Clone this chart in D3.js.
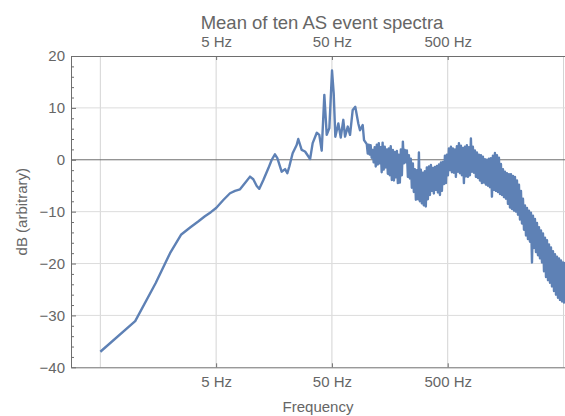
<!DOCTYPE html>
<html><head><meta charset="utf-8">
<script src="https://cdn.jsdelivr.net/npm/d3@7"></script>
<style>
body{margin:0;background:#fff}
svg{display:block}
text{font-family:"Liberation Sans",Arial,Helvetica,sans-serif;fill:#666}
</style>
</head><body>
<svg id="chart" width="565" height="416"></svg>
<script>
// ---- data ----
const lowFreqHz = [0.5,1.0,1.5,2.0,2.5,3.0,3.5,4.0,4.5,5.0,5.77,6.59,7.28,8.04,8.88,9.81,10.47,11.21,11.8,12.79,14.12,15.11,16.1,16.89,18.4,19.7,20.6,21.43,22.9,24.8];
const lowDb     = [-37.0,-31.1,-23.8,-18.0,-14.4,-13.0,-11.9,-10.9,-10.1,-9.3,-7.75,-6.45,-6.0,-5.7,-4.5,-3.25,-3.75,-5.05,-5.6,-3.9,-1.65,0.0,1.05,0.3,-2.3,-1.8,-2.6,-1.3,1.25,2.85];

const midFreqHz = [25.6,27.4,29.3,32.4,34.1,37.0,38.9,40.8,43.0,45.1,47.5,50.1,51.8,53.5,56.8,59.6,62.7,64.9,68.5,71.7,75.6,79.6,84.5,87.4,92.2,94.7];
const midDb     = [4.0,1.9,1.6,0.15,3.2,5.2,4.8,1.75,12.5,4.8,6.1,17.2,12.8,4.45,7.0,4.3,7.7,4.45,6.4,4.8,9.6,10.2,7.0,5.7,6.7,3.8];

// dense part of the spectrum: local maxima and minima of the noisy band
const highTopFreqHz = [100,104,108,112.5,117,122,127,132,137,143,149,155,161,168,175,182,189,197,205,213,222,231,240,250,260,271,282,293,305,317,330,344,358,372,387,403,420,437,454,473,492,512,533,554,577,600,625,650,676,704,732,762,793,825,859,894,930,968,1007,1048,1090,1135,1181,1229,1279,1331,1385,1441,1500,1561,1624,1690,1759,1830,1904,1982,2062,2146,2233,2324,2418,2516,2618,2725,2835,2950,3070,3195,3325,3460,3600,3746,3898,4056,4221,4392,4570,4756,4949,5150];
const highTopDb = [3.0,2.9,2.8,1.9,2.4,2.9,3.2,2.4,3.3,2.5,
  2.0,2.2,2.6,1.9,1.5,1.7,1.0,2.0,3.5,1.9,
  1.8,0.9,0.2,-0.7,-1.8,-2.0,1.4,-1.9,-2.5,-2.2,
  -1.5,-1.3,-1.0,-1.6,-1.4,-1.2,-0.9,-0.5,-0.4,0.8,
  1.0,2.2,2.5,2.2,2.0,2.6,3.2,2.7,2.3,2.5,
  2.8,2.4,4.1,2.5,1.8,1.4,1.0,0.9,0.6,0.1,
  0.0,0.2,0.3,0.8,1.3,0.9,0.4,-0.8,-1.8,-2.3,
  -2.6,-2.8,-2.8,-3.1,-3.3,-4.0,-4.8,-6.0,-7.5,-8.8,
  -9.3,-9.8,-10.2,-10.8,-11.4,-12.2,-13.0,-13.6,-14.2,-15.0,
  -15.5,-16.3,-16.9,-17.6,-18.2,-18.7,-19.0,-19.4,-19.8,-19.9];
const highBottomFreqHz = [102,106,110.2,114.7,119.5,124.5,129.5,134.5,140,146,152,158,164.5,171.5,178.5,185.5,193,201,209,217.5,226.5,235.5,245,255,265.5,276.5,287.5,299,311,323.5,337,351,365,379.5,395,411.5,428.5,445.5,463.5,482.5,502,522.5,543.5,565.5,588.5,612.5,637.5,663,690,718,747,777.5,809,842,876.5,912,949,987.5,1027.5,1069,1112.5,1158,1205,1254,1305,1358,1413,1470.5,1530.5,1592.5,1657,1724.5,1794.5,1867,1943,2022,2104,2189.5,2278.5,2371,2467,2567,2671.5,2780,2892.5,3010,3132.5,3260,3392.5,3530,3673,3822,3977,4138.5,4306.5,4481,4663,4852.5,5049,5253];
const highBottomDb = [1.2,1.0,0.4,-0.5,-1.3,-0.9,-0.7,-2.4,-1.9,-1.5,
  -2.7,-3.0,-3.9,-4.0,-3.4,-4.5,-4.4,-3.0,-0.7,-0.5,
  -3.3,-3.6,-5.4,-6.2,-7.7,-7.6,-8.0,-8.4,-8.8,-9.0,
  -7.6,-6.8,-6.0,-6.5,-5.8,-6.3,-6.8,-6.0,-4.7,-4.5,
  -3.0,-2.0,-2.4,-2.5,-3.3,-2.3,-2.6,-3.0,-4.5,-3.2,
  -3.3,-3.0,-2.3,-2.5,-3.3,-3.5,-4.0,-4.5,-4.4,-4.8,
  -5.0,-5.3,-7.1,-5.8,-6.0,-6.2,-6.6,-6.8,-7.2,-7.5,
  -8.5,-9.2,-9.5,-9.8,-10.0,-10.6,-11.5,-12.3,-13.5,-14.6,
  -15.3,-15.8,-19.8,-17.0,-17.8,-18.4,-19.0,-19.8,-21.5,-22.6,
  -23.2,-23.7,-24.4,-25.3,-26.0,-26.6,-27.0,-27.3,-27.5,-27.6];

const xTickValues = [5, 50, 500];
const xTickLabels = ["5 Hz", "50 Hz", "500 Hz"];
const xGridValues = [0.5, 5, 50, 500, 5000];
const yTickValues = [-40, -30, -20, -10, 0, 10, 20];
const yTickLabels = ["\u221240", "\u221230", "\u221220", "\u221210", "0", "10", "20"];
const yGridValues = [-30, -20, -10, 10];
const titleText = "Mean of ten AS event spectra";
const xTitle = "Frequency";
const yTitle = "dB (arbitrary)";

// ---- build series ----
const series = [];
lowFreqHz.forEach((f, i) => series.push({f, v: lowDb[i]}));
midFreqHz.forEach((f, i) => series.push({f, v: midDb[i]}));
highTopFreqHz.forEach((f, i) => {
  series.push({f, v: highTopDb[i]});
  series.push({f: highBottomFreqHz[i], v: highBottomDb[i]});
});

// ---- layout ----
const L = 71, R = 565, T = 56, B = 367.3;
const svg = d3.select("#chart");
const x = d3.scaleLog().domain([0.279, 5151]).range([L, R]);
const y = d3.scaleLinear().domain([-40, 20]).range([B, T]);
const frameColor = "#6e6e6e";

svg.append("defs").append("clipPath").attr("id", "clip")
  .append("rect").attr("x", L).attr("y", T).attr("width", R - L).attr("height", B - T);

// grid
svg.append("g").selectAll("line").data(xGridValues).join("line")
  .attr("x1", d => x(d)).attr("x2", d => x(d)).attr("y1", T).attr("y2", B)
  .attr("stroke", "#d4d4d4").attr("stroke-width", 1);
svg.append("g").selectAll("line").data(yGridValues).join("line")
  .attr("x1", L).attr("x2", R).attr("y1", d => y(d)).attr("y2", d => y(d))
  .attr("stroke", "#dcdcdc").attr("stroke-width", 1);
// zero line
svg.append("line").attr("x1", L).attr("x2", R).attr("y1", y(0)).attr("y2", y(0))
  .attr("stroke", frameColor).attr("stroke-width", 1);

// data line
svg.append("path").datum(series)
  .attr("clip-path", "url(#clip)")
  .attr("fill", "none").attr("stroke", "#5E81B5").attr("stroke-width", 2.4)
  .attr("stroke-linejoin", "round")
  .attr("d", d3.line().x(d => x(d.f)).y(d => y(d.v)));

function styleAxis(g) {
  g.selectAll(".domain").attr("stroke", frameColor);
  g.selectAll(".tick line").attr("stroke", frameColor);
  g.selectAll(".tick text").attr("fill", "#666").style("font-size", "15px")
    .style("font-family", '"Liberation Sans",Arial,sans-serif');
}

// bottom axis
const gb = svg.append("g").attr("transform", `translate(0,${B})`)
  .call(d3.axisBottom(x).tickValues(xTickValues).tickFormat((d, i) => xTickLabels[i])
    .tickSizeInner(-4).tickSizeOuter(0).tickPadding(9));
styleAxis(gb);
// top axis
const gt = svg.append("g").attr("transform", `translate(0,${T})`)
  .call(d3.axisTop(x).tickValues(xTickValues).tickFormat((d, i) => xTickLabels[i])
    .tickSizeInner(-4).tickSizeOuter(0).tickPadding(9));
styleAxis(gt);
// left axis major
const gl = svg.append("g").attr("transform", `translate(${L},0)`)
  .call(d3.axisLeft(y).tickValues(yTickValues).tickFormat((d, i) => yTickLabels[i])
    .tickSizeInner(-5).tickSizeOuter(0).tickPadding(6));
styleAxis(gl);
// left axis minor
const minor = d3.range(-40, 20, 2).filter(v => v % 10 !== 0);
const gm = svg.append("g").attr("transform", `translate(${L},0)`)
  .call(d3.axisLeft(y).tickValues(minor).tickFormat("").tickSizeInner(-3).tickSizeOuter(0));
gm.select(".domain").remove();
gm.selectAll(".tick line").attr("stroke", frameColor);

// titles
svg.append("text").attr("x", 322).attr("y", 29).attr("text-anchor", "middle")
  .style("font-size", "18.5px").text(titleText);
svg.append("text").attr("x", 318).attr("y", 412).attr("text-anchor", "middle")
  .style("font-size", "15px").text(xTitle);
svg.append("text").attr("transform", `translate(27,${(T + B) / 2}) rotate(-90)`)
  .attr("text-anchor", "middle").style("font-size", "15px").text(yTitle);
</script>
</body></html>
